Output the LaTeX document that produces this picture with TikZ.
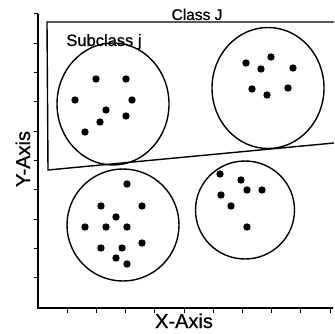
\documentclass[tikz,border=0pt]{standalone}
\usepackage{fontspec}
\setmainfont{Liberation Sans}
\newfontfamily\etiquette{Liberation Sans}[BoldFont={Liberation Sans},BoldFeatures={FakeBold=0.8}]
\usetikzlibrary{shapes.geometric,calc}
\begin{document}
\begin{tikzpicture}[x=1pt,y=-1pt]
	% Styles (MODIFIABLES)
	\tikzstyle{trait}=[line width=1.4pt]
	\tikzstyle{graduation}=[line width=1pt]
	\tikzstyle{sousclasse}=[draw,ellipse,line width=1.4pt,inner sep=0pt]
	\tikzstyle{legende}=[anchor=base,font=\etiquette\bfseries\fontsize{20}{22}\selectfont]
	\tikzstyle{titre}=[anchor=base,font=\etiquette\bfseries\fontsize{15.5}{17}\selectfont]
	% Dimensions (MODIFIABLES)
	\def\RayonPoint{3.7pt}
	\def\PasX{29.2}
	\def\PasY{29.3}
	% Cadre
	\useasboundingbox (0,0) rectangle (334,334);
	% Axes
	\coordinate (O) at (38,308);
	\coordinate (Ytop) at (38,14);
	\coordinate (Xend) at (333,308);
	\draw[trait] (Ytop) -- (O) -- (Xend);
	\foreach \k in {0,...,9}{
		\draw[graduation] ($(Ytop)+(0,\k*\PasY)$) -- ++(-4.5,0);
	}
	\foreach \k in {1,...,10}{
		\draw[graduation] ($(O)+(\k*\PasX,0)$) -- ++(0,4.5);
	}
	\node[legende] (xlabel) at (184,328) {X-Axis};
	\node[legende,rotate=90] (ylabel) at (30,159) {Y-Axis};
	% Classe J
	\draw[trait] (334,22) -- (47,22) -- (48,170) -- (334,143);
	\node[titre] (classe) at (197,20) {Class J};
	\node[titre,font=\etiquette\bfseries\fontsize{16.5}{18}\selectfont] (souscl) at (104,46) {Subclass j};
	% Sous-classes
	\node[sousclasse,minimum width=112pt,minimum height=122pt] (SA) at (113,104) {};
	\node[sousclasse,minimum width=112pt,minimum height=121pt] (SB) at (268,88) {};
	\node[sousclasse,minimum width=112pt,minimum height=112pt] (SC) at (123,225) {};
	\node[sousclasse,minimum width=99pt,minimum height=98pt] (SD) at (245,210) {};
	% Points
	\foreach \p in {(96,79),(126,79),(75,100),(132,100),(106,110),(126,116),(100,122),(85,132)}
		\fill \p circle (\RayonPoint);
	\foreach \p in {(246,63),(271,57),(261,69),(293,68),(252,89),(267,95),(288,88)}
		\fill \p circle (\RayonPoint);
	\foreach \p in {(127,184),(101,206),(142,206),(116,217),(85,227),(106,227),(127,227),(101,248),(122,248),(142,243),(116,258),(127,264)}
		\fill \p circle (\RayonPoint);
	\foreach \p in {(220,174),(241,180),(247,190),(262,190),(221,195),(231,206),(247,227)}
		\fill \p circle (\RayonPoint);
\end{tikzpicture}
\end{document}
